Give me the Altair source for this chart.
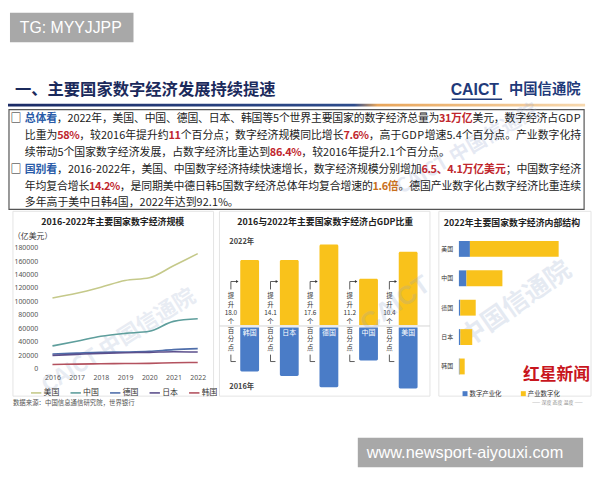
import altair as alt
import pandas as pd

CJK = "Noto Sans CJK SC"
LAT = "Liberation Sans"

# ---------------- data ----------------
years = [2016, 2017, 2018, 2019, 2020, 2021, 2022]
us_scale = [105000, 112000, 121000, 131000, 135000, 153000, 171000]
cn_scale = [33600, 40500, 47900, 52300, 55300, 70100, 74000]
de_scale = [21500, 22800, 24000, 24500, 25500, 28000, 29500]
jp_scale = [19500, 21000, 22500, 23500, 24000, 25000, 24500]
kr_scale = [6000, 6500, 7000, 7300, 7600, 8500, 9000]
line_countries = ["美国", "中国", "德国", "日本", "韩国"]
line_colors = ["#c5c98a", "#5e9e9c", "#4f6eaa", "#5b4f8c", "#b3525f"]
y_ticks = [0, 20000, 40000, 60000, 80000, 100000, 120000, 140000, 160000, 180000]

gdp_countries = ["韩国", "日本", "德国", "中国", "美国"]
share_2016 = [40.0, 44.0, 54.0, 30.3, 55.0]
share_2022 = [58.0, 58.1, 71.6, 41.5, 65.4]
share_gain = ["18.0", "14.1", "17.6", "11.2", "10.4"]

struct_countries = ["美国", "中国", "德国", "日本", "韩国"]
struct_parts = ["数字产业化", "产业数字化"]
digital_industry = [19000, 13000, 2300, 2500, 1200]
industry_digital = [153000, 62000, 26700, 20500, 8800]

body_lines = [
    [("□", "box"), ("总体看", "key"),
     ("，2022年，美国、中国、德国、日本、韩国等5个世界主要国家的数字经济总量为", "n"),
     ("31万亿", "hi"), ("美元，数字经济占GDP", "n")],
    [("比重为", "n"), ("58%", "hi"), ("，较2016年提升约", "n"), ("11", "hi"),
     ("个百分点；数字经济规模同比增长", "n"), ("7.6%", "hi"),
     ("，高于GDP增速5.4个百分点。产业数字化持", "n")],
    [("续带动5个国家数字经济发展，占数字经济比重达到", "n"), ("86.4%", "hi"),
     ("，较2016年提升2.1个百分点。", "n")],
    [("□", "box"), ("国别看", "key"),
     ("，2016-2022年，美国、中国数字经济持续快速增长，数字经济规模分别增加", "n"),
     ("6.5、4.1万亿美元", "hi"), ("；中国数字经济", "n")],
    [("年均复合增长", "n"), ("14.2%", "hi"),
     ("，是同期美中德日韩5国数字经济总体年均复合增速的", "n"), ("1.6倍", "hi2"),
     ("。德国产业数字化占数字经济比重连续", "n")],
    [("多年高于美中日韩4国，2022年达到92.1%。", "n")],
]
justify = [True, True, False, True, True, False]

# ---------------- helpers ----------------
one = pd.DataFrame({"k": [0]})


def txt(text, x, y, size, color="#222222", weight="normal", align="left",
        font=CJK, angle=0, opacity=1.0, baseline="middle"):
    props = dict(align=align, baseline=baseline, fontSize=size, font=font,
                 fontWeight=weight, color=color, opacity=opacity)
    if angle:
        props["angle"] = angle
    return alt.Chart(pd.DataFrame({"t": [text]})).mark_text(**props).encode(
        x=alt.value(x), y=alt.value(y), text="t:N")


def box(x1, y1, x2, y2, fill="#ffffff", stroke=None, sw=1.0, opacity=1.0):
    props = dict(fill=fill, opacity=opacity)
    if stroke:
        props.update(stroke=stroke, strokeWidth=sw)
    return alt.Chart(one).mark_rect(**props).encode(
        x=alt.value(x1), x2=alt.value(x2), y=alt.value(y1), y2=alt.value(y2))


# ---------------- header ----------------
STY = {"box": ("#222222", "bold"), "key": ("#2a5ba8", "bold"),
       "n": ("#222222", "normal"), "hi": ("#c0262d", "bold"),
       "hi2": ("#c8701e", "bold")}
FS = 11
line_y = [110, 127, 144, 161.5, 178.5, 195]
X0, XEND = 17, 580


def adv(ch):
    if ch.isdigit():
        return 0.56
    if ch == ".":
        return 0.3
    if ch == "%":
        return 0.9
    if ch == "-":
        return 0.4
    if ch in "GDP":
        return 0.72
    return 1.0


rows = []
for li, segs in enumerate(body_lines):
    chars = [(c, s) for t, s in segs for c in t]
    if chars[0][1] == "box":
        rows.append(dict(ch="□", x=8, y=line_y[li], c=STY["box"][0], w="bold"))
        chars = chars[1:]
    widths = [adv(c) * FS for c, _ in chars]
    gap = (XEND - X0 - sum(widths)) / (len(chars) - 1) if justify[li] else 0
    x = X0
    for (c, s), w in zip(chars, widths):
        rows.append(dict(ch=c, x=x + w / 2, y=line_y[li], c=STY[s][0], w=STY[s][1]))
        x += w + gap
body_df = pd.DataFrame(rows)


def body_layer(weight):
    return alt.Chart(body_df[body_df.w == weight]).mark_text(
        font=CJK, fontSize=FS, fontWeight=weight, align="center", baseline="middle"
    ).encode(x=alt.X("x:Q", scale=None, axis=None),
             y=alt.Y("y:Q", scale=None, axis=None),
             text="ch:N", color=alt.Color("c:N", scale=None))


grad = alt.LinearGradient(
    gradient="linear", x1=0, x2=1, y1=0, y2=0,
    stops=[alt.GradientStop(color="#1b2b66", offset=0),
           alt.GradientStop(color="#2d4c8c", offset=0.6),
           alt.GradientStop(color="#e8a55a", offset=0.64),
           alt.GradientStop(color="#f7d9b0", offset=1)])
grad_line = alt.Chart(one).mark_rect(fill=grad).encode(
    x=alt.value(0), x2=alt.value(584), y=alt.value(94), y2=alt.value(97))

caict_ul = alt.Chart(one).mark_rule(color="#1f3a7a", strokeWidth=1.5).encode(
    x=alt.value(449), x2=alt.value(500), y=alt.value(89.5))

header = alt.layer(
    box(0, 0, 584, 202, fill="#ffffff"),
    box(2, 2, 127, 32, fill="#a8a8a8"),
    txt("TG: MYYJJPP", 12, 17.5, 16, color="#ffffff", font=LAT),
    txt("一、主要国家数字经济发展持续提速", 7, 80, 16.5, color="#1b2a5c", weight="bold"),
    txt("CAICT", 448, 80, 16, color="#1f3a7a", weight="bold", font=LAT),
    caict_ul,
    txt("中国信通院", 507, 80, 14.5, color="#1f3a7a", weight="bold"),
    grad_line,
    box(1, 100, 583, 201, fill="#ffffff", stroke="#555555", sw=1.2),
    txt("CAICT 中国信通院", 465, 140, 20, color="#9aaad0", weight="bold", angle=330, opacity=0.25, align="center"),
    body_layer("normal"),
    body_layer("bold"),
).properties(width=584, height=202)

# ---------------- panel 1: line chart ----------------
series = [us_scale, cn_scale, de_scale, jp_scale, kr_scale]
line_df = pd.DataFrame([{"year": y, "country": c, "value": v}
                        for c, vals in zip(line_countries, series)
                        for y, v in zip(years, vals)])

lines = alt.Chart(line_df).mark_line(strokeWidth=1.6, interpolate="monotone").encode(
    x=alt.X("year:Q",
            scale=alt.Scale(domain=[2016, 2022], range=[45, 192], nice=False, zero=False),
            axis=alt.Axis(values=years, format="d", title=None, domain=False, ticks=False,
                          grid=False, labelFontSize=7, labelColor="#555555", labelFont="Noto Sans",
                          offset=-40, labelPadding=3, labelOverlap=False, labelFlush=False,
                          zindex=2)),
    y=alt.Y("value:Q",
            scale=alt.Scale(domain=[0, 180000], range=[160, 37.7], nice=False, zero=False),
            axis=alt.Axis(values=y_ticks, format="d", title=None, domain=False, ticks=False,
                          grid=False, labelFontSize=7, labelColor="#555555", labelFont="Noto Sans",
                          offset=-33, labelPadding=3, labelOverlap=False, zindex=2)),
    color=alt.Color("country:N",
                    scale=alt.Scale(domain=line_countries, range=line_colors),
                    legend=alt.Legend(orient="none", legendX=22, legendY=178, direction="horizontal",
                                      title=None, symbolType="stroke", symbolStrokeWidth=1.6,
                                      symbolSize=110, labelFontSize=8, labelFont=CJK,
                                      labelColor="#333333", columnPadding=8, labelOffset=1)),
)

p1 = alt.layer(
    box(0, 0, 209, 202, fill="#ffffff"),
    box(5, 1, 208, 188, fill="#ffffff", stroke="#e4e4e4"),
    txt("CAICT 中国信通院", 112, 132, 22, color="#8ea2c8", weight="bold", angle=328, opacity=0.2, align="center"),
    txt("2016-2022年主要国家数字经济规模", 106, 12, 9, color="#222222", weight="bold", align="center"),
    txt("（亿美元）", 5, 27, 8, color="#333333"),
    lines,
    txt("数据来源：中国信息通信研究院，世界银行", 5, 195, 6.5, color="#555555"),
).properties(width=209, height=202)

# ---------------- panel 2: diverging bars ----------------
gdp_df = pd.DataFrame({"country": gdp_countries, "s16": share_2016, "s22": share_2022,
                       "gain": share_gain})
gdp_df["neg16"] = -gdp_df["s16"]
gdp_df["zero"] = 0.0
gdp_df["note"] = "提\n升\n" + gdp_df["gain"] + "\n个\n百\n分\n点"

xb = alt.X("country:N", scale=alt.Scale(domain=gdp_countries, range=[12.5, 213],
                                        paddingInner=0.525, paddingOuter=0.2625), axis=None)
ys = alt.Scale(domain=[-60, 100], range=[186, 2], nice=False, zero=False)
base2 = alt.Chart(gdp_df)

baseline = alt.Chart(pd.DataFrame({"zero": [0.0]})).mark_rule(color="#d4d4d4", strokeWidth=1).encode(
    x=alt.value(2), x2=alt.value(215), y=alt.Y("zero:Q", scale=ys, axis=None))
bar22 = base2.mark_bar(color="#f9c21b", y2Offset=-1, cornerRadiusTopLeft=1.5,
                       cornerRadiusTopRight=1.5).encode(
    x=xb, y=alt.Y("s22:Q", scale=ys, axis=None), y2="zero:Q")
bar16 = base2.mark_bar(color="#4a7cc7", yOffset=1.5, cornerRadiusBottomLeft=1.5,
                       cornerRadiusBottomRight=1.5).encode(
    x=xb, y=alt.Y("zero:Q", scale=ys, axis=None), y2="neg16:Q")
cname = base2.mark_text(color="#ffffff", fontSize=7, font=CJK, yOffset=7.5,
                        baseline="middle").encode(
    x=xb, y=alt.Y("zero:Q", scale=ys, axis=None), text="country:N")
note = base2.mark_text(color="#333333", fontSize=6.5, font=CJK, lineBreak="\n",
                       lineHeight=8.8, xOffset=-19, yOffset=-30.4, baseline="middle",
                       align="center").encode(
    x=xb, y=alt.Y("zero:Q", scale=ys, axis=None), text="note:N")
br_top_v = base2.mark_rule(color="#333333", strokeWidth=0.8, xOffset=-19).encode(
    x=xb, y=alt.value(72), y2=alt.value(80))
br_top_h = base2.mark_rule(color="#333333", strokeWidth=0.8, xOffset=-19, x2Offset=-13).encode(
    x=xb, x2="country:N", y=alt.value(72))
br_arrow = base2.mark_point(shape="triangle-right", filled=True, size=8, color="#333333",
                            opacity=1, xOffset=-12.5).encode(x=xb, y=alt.value(72))
br_bot_v = base2.mark_rule(color="#333333", strokeWidth=0.8, xOffset=-19).encode(
    x=xb, y=alt.value(146), y2=alt.value(153))
br_bot_h = base2.mark_rule(color="#333333", strokeWidth=0.8, xOffset=-19, x2Offset=-14).encode(
    x=xb, x2="country:N", y=alt.value(153))

p2 = alt.layer(
    box(0, 0, 216, 202, fill="#ffffff"),
    box(2, 1, 215, 188, fill="#ffffff", stroke="#e4e4e4"),
    txt("2016与2022年主要国家数字经济占GDP比重", 109, 12, 9, color="#222222", weight="bold", align="center"),
    txt("2022年", 12, 32, 7.5, color="#444444", weight="bold"),
    txt("2016年", 12, 179, 7.5, color="#444444", weight="bold"),
    baseline, bar22, bar16, cname, note,
    br_top_v, br_top_h, br_arrow, br_bot_v, br_bot_h,
    txt("CAICT", 180, 95, 26, color="#8ea2c8", weight="bold", angle=325, opacity=0.22, align="center", font=LAT),
).properties(width=216, height=202)

# ---------------- panel 3: structure bars ----------------
struct_rows = []
for c, a, b in zip(struct_countries, digital_industry, industry_digital):
    struct_rows.append({"country": c, "part": struct_parts[0], "value": a, "ord": 0})
    struct_rows.append({"country": c, "part": struct_parts[1], "value": b, "ord": 1})
struct_df = pd.DataFrame(struct_rows)

bars3 = alt.Chart(struct_df).mark_bar().encode(
    y=alt.Y("country:N",
            scale=alt.Scale(domain=struct_countries, range=[24.15, 172.85],
                            paddingInner=0.46, paddingOuter=0.23),
            axis=alt.Axis(title=None, domain=False, ticks=False, labelFontSize=6,
                          labelColor="#333333", labelFont=CJK, offset=-20, labelPadding=2,
                          zindex=2)),
    x=alt.X("value:Q", stack="zero",
            scale=alt.Scale(domain=[0, 200000], range=[24.3, 141.7], nice=False),
            axis=None),
    color=alt.Color("part:N", scale=alt.Scale(domain=struct_parts, range=["#4a7cc7", "#f9c21b"]),
                    legend=alt.Legend(orient="none", legendX=27, legendY=182,
                                      direction="horizontal", title=None, symbolType="square",
                                      symbolSize=25, labelFontSize=6.5, labelFont=CJK,
                                      labelColor="#333333", columnPadding=18, labelOffset=1)),
    order=alt.Order("ord:Q"),
)

p3 = alt.layer(
    box(0, 0, 159, 202, fill="#ffffff"),
    box(4, 1, 158, 188, fill="#ffffff", stroke="#e4e4e4"),
    txt("2022年主要国家数字经济内部结构", 78, 13, 9, color="#222222", weight="bold", align="center"),
    txt("中国信通院", 82, 95, 26, color="#8ea2c8", weight="bold", angle=325, opacity=0.22, align="center"),
    bars3,
    txt("红星新闻", 157, 167, 17, color="#c8161d", weight="bold", align="right"),
    txt("—— 深度 态度 温度 ——", 124, 194, 5, color="#888888", align="center"),
).properties(width=159, height=202)

row = alt.hconcat(p1, p2, p3, spacing=0).resolve_scale(
    color="independent", x="independent", y="independent")

# ---------------- footer ----------------
footer = alt.layer(
    box(0, 0, 584, 60, fill="#ffffff"),
    box(354, 28, 582, 58, fill="#a8a8a8"),
    txt("www.newsport-aiyouxi.com", 363, 43.5, 16.5, color="#ffffff", font=LAT),
).properties(width=584, height=60)

chart = alt.vconcat(header, row, footer, spacing=0).resolve_scale(
    color="independent", x="independent", y="independent"
).properties(padding=0, background="#ffffff").configure_view(strokeWidth=0)

chart.save("out.html", embed_options={"renderer": "svg", "actions": False})
